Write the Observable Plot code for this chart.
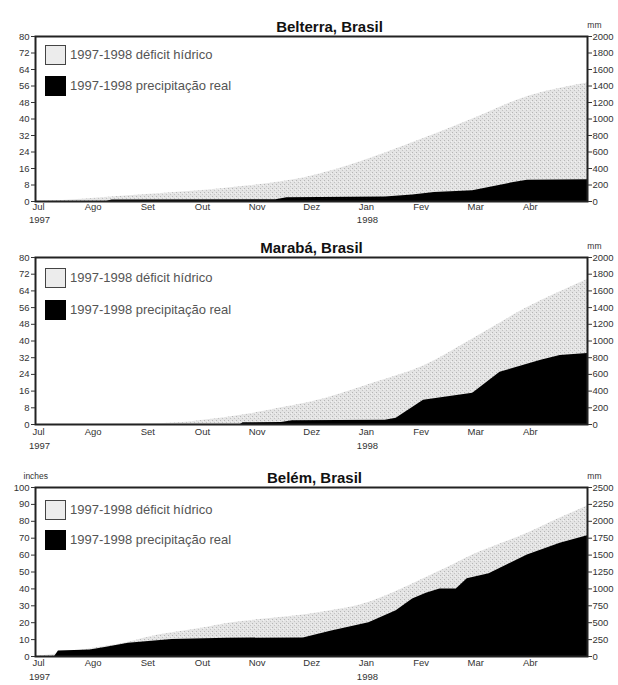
<!DOCTYPE html>
<html>
<head>
<meta charset="utf-8">
<script src="https://cdn.jsdelivr.net/npm/d3@7"></script>
<script src="https://cdn.jsdelivr.net/npm/@observablehq/plot@0.6"></script>
<style>
  html, body { margin: 0; padding: 0; background: #fff; }
  body { font-family: "Liberation Sans", Arial, sans-serif; }
  #root { width: 618px; height: 685px; position: relative; overflow: hidden; }
  .panel { position: relative; width: 618px; }
  .panel svg { display: block; }
  .lg { position: absolute; left: 45px; font-size: 13px; color: #555; white-space: nowrap; }
  .lg .box { position: absolute; left: 0; top: 0; width: 19px; height: 18px; border: 1.5px solid #444; }
  .lg .txt { position: absolute; left: 25px; top: 1px; line-height: 18px; }
</style>
</head>
<body>
<svg width="0" height="0" style="position:absolute">
  <defs>
    <pattern id="stipple" width="4" height="4" patternUnits="userSpaceOnUse">
      <rect width="4" height="4" fill="#e4e4e4"></rect>
      <rect x="0" y="0" width="1" height="1" fill="#b5b5b5"></rect>
      <rect x="2" y="2" width="1" height="1" fill="#c2c2c2"></rect>
      <rect x="3" y="1" width="1" height="1" fill="#f2f2f2"></rect>
    </pattern>
  </defs>
</svg>
<div id="root"></div>
<script>
// ---------- shared axis labels ----------
const months = ["Jul", "Ago", "Set", "Out", "Nov", "Dez", "Jan", "Fev", "Mar", "Abr"];
const monthTicks = [0, 1, 2, 3, 4, 5, 6, 7, 8, 9];      // months since 1 Jul 1997
const yearTicks = [0, 6];
const yearLabels = ["1997", "1998"];
const legendLabels = ["1997-1998 déficit hídrico", "1997-1998 precipitação real"];
const titles = ["Belterra, Brasil", "Marabá, Brasil", "Belém, Brasil"];

// ---------- Belterra (inches, cumulative) ----------
const belterraNormalT = [0, 0.5, 1.2, 2.1, 3.0, 3.9, 4.4, 5.0, 5.5, 6.0, 6.8, 8.0, 8.9, 10.1];
const belterraNormal  = [0, 0.5, 1.8, 3.5, 5.2, 7.6, 9.2, 12, 15.5, 19.8, 27.5, 40, 50, 57.5];
const belterraActualT = [0, 1.3, 1.4, 4.4, 4.6, 6.4, 6.9, 7.3, 8.0, 8.3, 8.75, 9.0, 10.1];
const belterraActual  = [0, 0, 0.7, 0.9, 1.8, 2.2, 3.2, 4.4, 5.2, 6.8, 9.2, 10.3, 10.6];
const belterraLeftTicks = [0, 8, 16, 24, 32, 40, 48, 56, 64, 72, 80];
const belterraRightTicks = [0, 200, 400, 600, 800, 1000, 1200, 1400, 1600, 1800, 2000];

// ---------- Marabá ----------
const marabaNormalT = [0, 2.0, 2.7, 3.0, 3.9, 4.5, 5.0, 6.2, 7.1, 8.0, 9.0, 10.1];
const marabaNormal  = [0, 0.3, 1.0, 1.8, 5.0, 8.0, 10.5, 20, 28, 41, 56, 69.5];
const marabaActualT = [0, 3.75, 3.8, 4.5, 4.7, 6.4, 6.6, 7.1, 8.0, 8.5, 9.25, 9.6, 10.1];
const marabaActual  = [0, 0, 0.8, 1.0, 1.8, 2.0, 3.0, 11.6, 15, 25, 30.8, 33, 34];
const marabaLeftTicks = [0, 8, 16, 24, 32, 40, 48, 56, 64, 72, 80];
const marabaRightTicks = [0, 200, 400, 600, 800, 1000, 1200, 1400, 1600, 1800, 2000];

// ---------- Belém ----------
const belemNormalT = [0, 0.4, 1.0, 1.7, 2.0, 3.0, 3.6, 4.3, 5.0, 5.4, 6.0, 6.6, 7.2, 7.5, 8.0, 8.5, 9.0, 9.6, 10.1];
const belemNormal  = [0, 1.5, 4.6, 8.5, 11, 16.5, 20, 22.5, 25, 27, 31, 38.5, 47.5, 52, 60, 66.5, 73, 82, 89];
const belemActualT = [0, 0.35, 0.42, 1.0, 1.3, 1.7, 2.5, 3.5, 4.9, 5.4, 6.1, 6.6, 6.9, 7.15, 7.4, 7.7, 7.9, 8.3, 9.0, 9.6, 10.1];
const belemActual  = [0, 0, 3.3, 3.8, 5.5, 7.8, 10, 10.8, 11, 15, 20, 27, 34, 37.5, 40, 40, 46, 49, 60, 67, 71.5];
const belemLeftTicks = [0, 10, 20, 30, 40, 50, 60, 70, 80, 90, 100];
const belemRightTicks = [0, 250, 500, 750, 1000, 1250, 1500, 1750, 2000, 2250, 2500];

const MM_PER_UNIT = 25; // right axis aligned with left axis as in the original

const rows = (ts, vs) => ts.map((t, i) => ({t, v: vs[i]}));

function makePanel(cfg) {
  const wrap = document.createElement("div");
  wrap.className = "panel";
  wrap.style.height = cfg.height + "px";
  const marks = [
    Plot.areaY(rows(cfg.normalT, cfg.normal), {x: "t", y: "v", fill: "url(#stipple)", curve: "monotone-x"}),
    Plot.areaY(rows(cfg.actualT, cfg.actual), {x: "t", y: "v", fill: "#000", curve: "linear"}),
    Plot.frame({stroke: "#222", strokeWidth: 2}),
    Plot.axisY(cfg.leftTicks, {anchor: "left", tickSize: 4, tickPadding: 2, fontSize: 9.5, label: null, tickFormat: d => String(d)}),
    Plot.axisY(cfg.rightTicks.map(m => m / MM_PER_UNIT), {anchor: "right", tickSize: 4, tickPadding: 1, fontSize: 9.5, label: null, tickFormat: d => String(Math.round(d * MM_PER_UNIT))}),
    Plot.axisX(monthTicks, {anchor: "bottom", tickSize: 0, tickPadding: cfg.monthPad, fontSize: 9.5, label: null, dx: 3, tickFormat: i => months[i]}),
    Plot.axisX(yearTicks, {anchor: "bottom", tickSize: 0, tickPadding: cfg.yearPad, fontSize: 9.5, label: null, dx: 4, tickFormat: (d, i) => yearLabels[i]}),
    Plot.text([cfg.title], {frameAnchor: "top", dy: -15, dx: cfg.titleDx, fontSize: 15, fontWeight: "bold", fill: "#111"}),
    Plot.text(["mm"], {frameAnchor: "top-right", dx: 14, dy: -15, fontSize: 8.5, fill: "#333"})
  ];
  if (cfg.inches) marks.push(Plot.text(["inches"], {frameAnchor: "top-left", dx: -12, dy: -15, fontSize: 8.5, fill: "#333"}));
  const svg = Plot.plot({
    width: 618,
    height: cfg.height,
    marginLeft: 35,
    marginRight: 31,
    marginTop: cfg.marginTop,
    marginBottom: cfg.height - cfg.marginTop - cfg.frameH,
    x: {type: "linear", domain: [0, 10.1]},
    y: {type: "linear", domain: [0, cfg.yMax], label: null},
    style: {fontFamily: "Liberation Sans, Arial, sans-serif", background: "white", color: "#333", overflow: "visible"},
    marks
  });
  wrap.appendChild(svg);
  // legend
  cfg.legendTops.forEach((top, i) => {
    const lg = document.createElement("div");
    lg.className = "lg";
    lg.style.top = top + "px";
    const box = document.createElement("div");
    box.className = "box";
    box.style.background = i === 0 ? "#ececec" : "#000";
    if (i === 1) box.style.borderColor = "#000";
    const txt = document.createElement("div");
    txt.className = "txt";
    txt.textContent = legendLabels[i];
    lg.appendChild(box); lg.appendChild(txt);
    wrap.appendChild(lg);
  });
  return wrap;
}

const root = document.getElementById("root");
root.appendChild(makePanel({
  title: titles[0], titleDx: 18, height: 228, marginTop: 36, frameH: 165, yMax: 80,
  normalT: belterraNormalT, normal: belterraNormal, actualT: belterraActualT, actual: belterraActual,
  leftTicks: belterraLeftTicks, rightTicks: belterraRightTicks, monthPad: 2, yearPad: 15, legendTops: [45, 76]
}));
root.appendChild(makePanel({
  title: titles[1], titleDx: 0, height: 227, marginTop: 29, frameH: 167, yMax: 80,
  normalT: marabaNormalT, normal: marabaNormal, actualT: marabaActualT, actual: marabaActual,
  leftTicks: marabaLeftTicks, rightTicks: marabaRightTicks, monthPad: 4, yearPad: 18, legendTops: [40, 72]
}));
root.appendChild(makePanel({
  title: titles[2], titleDx: 3, height: 230, marginTop: 32, frameH: 169, yMax: 100, inches: true,
  normalT: belemNormalT, normal: belemNormal, actualT: belemActualT, actual: belemActual,
  leftTicks: belemLeftTicks, rightTicks: belemRightTicks, monthPad: 3, yearPad: 17, legendTops: [45, 75]
}));
</script>
</body>
</html>
